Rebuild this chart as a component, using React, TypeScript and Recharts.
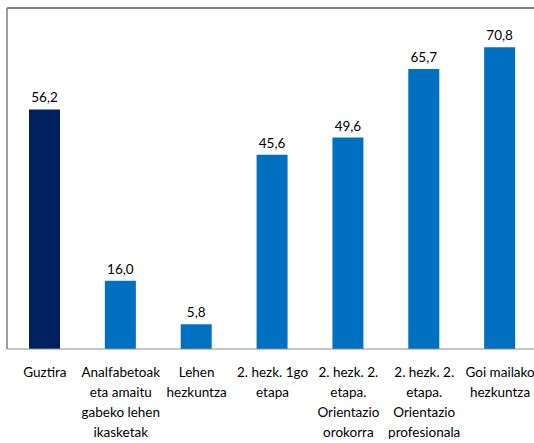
import React from "react";
import { BarChart, Bar, XAxis, YAxis, Cell, LabelList } from "recharts";

const categoryLines: string[][] = [
  ["Guztira"],
  ["Analfabetoak", "eta amaitu", "gabeko lehen", "ikasketak"],
  ["Lehen", "hezkuntza"],
  ["2. hezk. 1go", "etapa"],
  ["2. hezk. 2.", "etapa.", "Orientazio", "orokorra"],
  ["2. hezk. 2.", "etapa.", "Orientazio", "profesionala"],
  ["Goi mailako", "hezkuntza"],
];
const values: number[] = [56.2, 16.0, 5.8, 45.6, 49.6, 65.7, 70.8];
const highlightIndex = 0;

const data = categoryLines.map((lines, i) => ({
  name: lines.join(" "),
  value: values[i],
}));

const FONT = "Lato, 'Open Sans', sans-serif";

const Tick = (props: any) => {
  const { x, payload, index } = props;
  const lines = categoryLines[index] ?? [String(payload.value)];
  return (
    <text x={x} y={377} textAnchor="middle" fontFamily={FONT} fontSize={13.5} fill="#000">
      {lines.map((l, i) => (
        <tspan key={i} x={x} y={377 + i * 20}>
          {l}
        </tspan>
      ))}
    </text>
  );
};

export default function App() {
  return (
    <div style={{ position: "absolute", left: 0, top: 0, width: 534, height: 443, overflow: "hidden", background: "#fff" }}>
      <BarChart
        width={538}
        height={443}
        data={data}
        margin={{ top: 8, right: 0, left: 6, bottom: 0 }}
        barSize={31}
      >
        <XAxis
          dataKey="name"
          interval={0}
          tickLine={false}
          axisLine={{ stroke: "#8c8c8c", strokeWidth: 1 }}
          height={94}
          tick={<Tick />}
        />
        <YAxis
          domain={[0, 80]}
          width={1}
          tick={false}
          tickLine={false}
          axisLine={{ stroke: "#404040", strokeWidth: 1 }}
        />
        <Bar dataKey="value" isAnimationActive={false}>
          {data.map((_, i) => (
            <Cell key={i} fill={i === highlightIndex ? "#002060" : "#0070C0"} />
          ))}
          <LabelList
            dataKey="value"
            position="top"
            offset={7}
            formatter={(v: any) => Number(v).toFixed(1).replace(".", ",")}
            style={{ fontFamily: FONT, fontSize: 13.5, fill: "#000" }}
          />
        </Bar>
      </BarChart>
      <div style={{ position: "absolute", left: 7, top: 7, width: 527, height: 2, background: "#7f7f7f", zIndex: 2 }} />
    </div>
  );
}
